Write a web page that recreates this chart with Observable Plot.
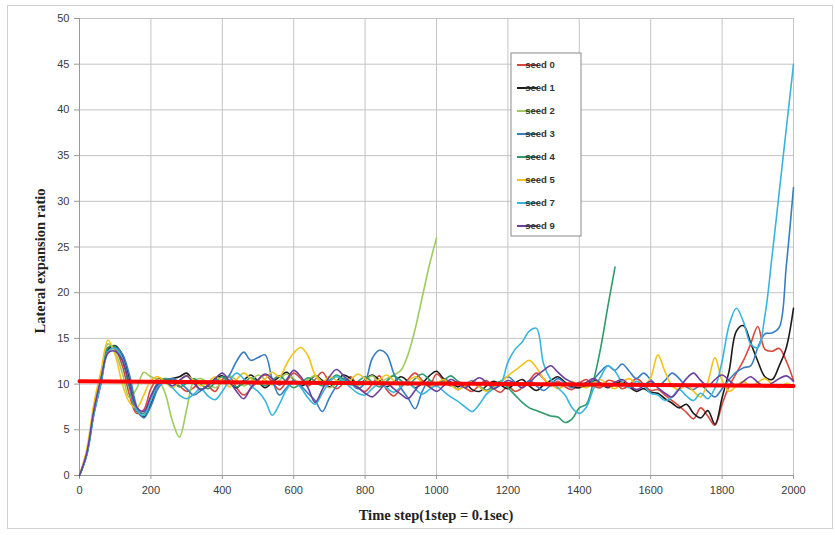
<!DOCTYPE html>
<html>
<head>
<meta charset="utf-8">
<script src="https://cdn.jsdelivr.net/npm/d3@7"></script>
<script src="https://cdn.jsdelivr.net/npm/@observablehq/plot@0.6"></script>
<style>
  html, body { margin: 0; padding: 0; background: #fff; }
  #wrap { position: relative; width: 835px; height: 535px; overflow: hidden; }
  #border { position: absolute; left: 7px; top: 5px; width: 824px; height: 522px; border: 1px solid #d2d2d2; pointer-events: none; }
  #chart { position: absolute; left: 0; top: 0; }
</style>
</head>
<body>
<div id="wrap"><div id="chart"></div><div id="border"></div></div>
<script>
// ---- Data ----
const timeStep = 20; // samples every 20 steps, t = 0 .. 2000
const seedNames = ["seed 0", "seed 1", "seed 2", "seed 3", "seed 4", "seed 5", "seed 7", "seed 9"];
const seedColors = ["#d9463c", "#1c1c1c", "#9dcc5c", "#3a7ec2", "#2f9a6c", "#f2c31c", "#38b5de", "#6b3f9c"];

const seed0 = [0, 2.5, 7, 10.5, 14, 13.8, 12, 8.8, 6.8, 7.2, 9.5, 10.6,
  10.4, 10.2, 9.8, 9.2, 9.6, 10.3, 9.8, 9.2, 10.5, 10.8, 9.6, 8.8, 9.5, 10.4,
  11, 10.2, 9.4, 10.3, 11.2, 10.6, 9.8, 10.5, 11.3, 10.2, 9.5, 10.1, 10.8, 9.7,
  9.2, 10, 10.9, 9.4, 8.7, 9.6, 10.5, 11.2, 10.4, 9.8, 11.1,
  10.4, 9.8, 10.3, 9.6, 9.2, 9.9, 10.4, 9.5, 9.1, 9.8,
  9.2, 9.6, 10.4, 11.2, 10.6, 9.8, 10.3, 9.7, 9.4, 10.1,
  10.5, 9.8, 9.6, 10.4, 10.2, 9.5, 9.9, 10.6, 10, 9.3,
  9.4, 8.8, 8.2, 7.6, 6.9, 6.2, 7.4, 6.5, 5.5, 7.8,
  9.8, 11.2, 12.6, 14.4, 16.3, 13.8, 13.6, 13.9, 12.5, 10.4];

const seed1 = [0, 2.3, 6.8, 10.2, 13.8, 14.2, 13.2, 10.5, 7.2, 6.4, 7.8, 9.8,
  10.4, 10.6, 10.8, 11.2, 10.2, 9.4, 9.8, 10.6, 10.9, 10.2, 9.6, 10.4, 11, 10.3,
  9.6, 10.2, 10.8, 11.3, 10.5, 9.8, 10.2, 10.9, 10.4, 9.7, 10.3, 11, 10.6, 9.9,
  10.5, 11, 10.4, 9.7, 10.2, 10.8, 10.3, 9.6, 10.1, 10.9, 11.4,
  10.6, 10.2, 9.7, 10.1, 9.4, 9.2, 9.8, 10.3, 9.9, 9.5,
  10.1, 10.5, 9.8, 9.3, 9.9, 10.4, 10.8, 10.2, 9.7, 9.6,
  9.9, 10.4, 10.1, 9.6, 10, 10.3, 9.7, 9.2, 9.5, 9.1,
  9, 8.4, 7.9, 7.4, 7.8, 6.8, 6.3, 7.1, 5.6, 8.5,
  11.5, 15.8, 16.4, 14.5, 12.5, 10.8, 10.5, 12, 14, 18.3];

const seed2 = [0, 2.4, 7.2, 10.8, 14.4, 13.5, 11.2, 8.5, 9.5, 11.3, 10.8, 10.5,
  9, 6, 4.2, 7.2, 10.3, 10.6, 10.1, 9.6, 10.2, 10.9, 10.4, 9.8, 10.3, 11,
  10.5, 9.9, 10.4, 11.1, 10.6, 10, 10.5, 10.9, 10.2, 9.6, 10.1, 10.7, 10.3, 9.8,
  10.4, 10.9, 10.2, 10.6, 11, 11.5, 13.2, 16, 19.5, 23, 26];

const seed3 = [0, 2.2, 6.6, 10, 13.5, 14, 13.3, 11, 7.6, 6.3, 7.6, 9.5,
  10.4, 10.6, 10.2, 9.5, 8.8, 9.3, 9.9, 10.5, 10.2, 11, 12.5, 13.5, 12.6, 12.9,
  13.2, 10.5, 8.8, 9.6, 10.4, 9.8, 9, 8.2, 7, 8.5, 9.8, 10.6, 10.1, 9.5,
  10.2, 12.8, 13.7, 13.3, 11.2, 9.6, 8.5, 7.3, 9.2, 10.4, 9.8,
  10.5, 10.1, 9.4, 9.9, 10.4, 9.8, 9.3, 9.7, 10.3, 10.8,
  10.2, 9.6, 10.4, 9.8, 9.3, 9.9, 10.6, 10.1, 9.6, 10.2,
  9.8, 10.5, 11.4, 12, 11.5, 12.2, 11.4, 10.6, 11.2, 10.5,
  9.8, 10.4, 11.2, 10.6, 9.7, 9.4, 9.9, 9.2, 8.6, 9.5,
  10.5, 11.3, 11.8, 12, 14, 15.5, 15.6, 16.2, 23, 31.5];

const seed4 = [0, 2.3, 6.9, 10.4, 14, 14.1, 12.6, 9.6, 7, 6.8, 8.6, 10.2,
  10.6, 10.3, 9.7, 10.1, 10.6, 10, 9.5, 10.2, 10.8, 10.3, 9.7, 10.1, 10.7, 10.2,
  9.8, 10.4, 10.9, 10.2, 9.6, 10.1, 10.7, 10.3, 9.8, 10.4, 11, 10.5, 9.9, 10.3,
  10.8, 10.2, 9.7, 10.3, 10.9, 10.4, 9.9, 10.6, 11.1, 10.5, 10,
  10.4, 10.9, 10.3, 9.8, 10.2, 9.7, 9.3, 9.9, 10.3, 9.6,
  8.8, 8, 7.4, 7.1, 6.8, 6.5, 6.4, 5.8, 6.2, 7.4,
  7.8, 10.4, 14, 18.5, 22.8];

const seed5 = [0, 2.8, 7.8, 11.4, 14.8, 13.2, 10, 8, 7.4, 8.8, 10.4, 10.8,
  10.2, 9.6, 10.3, 10.9, 10.4, 9.8, 10.2, 10.8, 10.3, 9.7, 10.5, 11.2, 10.6, 10,
  10.6, 11.3, 10.8, 12.2, 13.4, 14, 13.1, 11, 10.2, 10.8, 10.4, 10, 10.5, 11.1,
  10.6, 10.1, 10.5, 11, 10.4, 9.9, 10.3, 10.8, 10.2, 9.7, 10.1,
  10.5, 9.9, 9.4, 9.8, 10.3, 9.7, 9.2, 9.6, 10.2, 10.9,
  11.5, 12.1, 12.6, 11.8, 10.6, 10, 9.5, 9.9, 10.3, 9.8,
  9.6, 10.1, 10.5, 9.9, 9.5, 10.2, 10.6, 10, 9.8, 10.7,
  13.2, 11.4, 9.8, 9.4, 9.9, 9.2, 8.6, 10.2, 12.9, 10.4,
  9.2, 9.8, 10.3, 9.7, 10.2, 10.6, 10, 9.6, 10.1, 9.7];

const seed7 = [0, 2.2, 6.7, 10.1, 13.6, 13.9, 12.8, 10, 7.2, 6.6, 8.2, 9.8,
  10.2, 9.6, 8.8, 8.4, 8.9, 9.5, 8.7, 8.3, 9.2, 10.4, 11.2, 10.6, 9.8, 9.2,
  8.2, 6.6, 7.8, 9.4, 10.2, 9.6, 8.5, 7.8, 9, 10.2, 10.8, 10.3, 9.6, 9,
  8.8, 9.5, 10.1, 9.6, 9.1, 9.7, 10.3, 9.5, 8.9, 9.4, 9.8,
  9.2, 8.6, 8.1, 7.5, 7, 7.8, 8.9, 9.5, 10, 12.4,
  13.8, 14.6, 15.8, 16.1, 12.2, 10.5, 9.6, 8.8, 7.4, 6.8,
  7.5, 9.5, 10.8, 12, 11.4, 10.2, 9.6, 10.3, 9.8, 9,
  8.8, 8.2, 8.6, 9.4, 8.7, 8.2, 9, 8.4, 9.6, 12.5,
  16.5, 18.3, 16.8, 14.4, 14, 17.5, 24, 31, 38, 45];

const seed9 = [0, 2.4, 7.1, 10.6, 13.4, 13.6, 12.6, 9.9, 7.5, 7, 8.7, 10,
  10.3, 9.8, 10.4, 10.9, 10.1, 9.4, 9.9, 10.6, 11.2, 10.3, 9.2, 8.4, 9.6, 10.5,
  11.1, 10.6, 9.9, 10.5, 11.5, 10.8, 9.6, 8, 9.4, 10.8, 11.6, 10.9, 10.2, 9.6,
  9, 8.6, 9.3, 10.1, 9.5, 8.9, 8.4, 9.3, 10.2, 9.7, 9.2,
  9.8, 10.5, 10.1, 9.6, 10.2, 10.7, 10.2, 9.5, 9.9, 10.4,
  10.1, 9.6, 10.2, 10.9, 11.5, 12, 11.3, 10.6, 10.2, 9.8,
  10.2, 10.6, 10.1, 9.7, 10.2, 10.5, 9.9, 9.4, 9.8, 10.3,
  9.6, 9, 8.6, 9.5, 10.6, 11.2, 10.4, 9.8, 10.5, 11,
  10.4, 9.8, 10.3, 10.8, 10.2, 9.7, 10.1, 10.6, 10.9, 10.3];

const trendT = [0, 2000];
const trendV = [10.3, 9.8];

const xTicks = [0, 200, 400, 600, 800, 1000, 1200, 1400, 1600, 1800, 2000];
const yTicks = [0, 5, 10, 15, 20, 25, 30, 35, 40, 45, 50];
const xTitle = "Time step(1step = 0.1sec)";
const yTitle = "Lateral expansion ratio";

// ---- Build table ----
const seriesValues = [seed0, seed1, seed2, seed3, seed4, seed5, seed7, seed9];
const rows = [];
seriesValues.forEach((vals, k) => {
  vals.forEach((v, i) => rows.push({seed: seedNames[k], t: i * timeStep, v}));
});
const trend = trendT.map((t, i) => ({t, v: trendV[i]}));

const W = 835, H = 535, ML = 79, MR = 42, MT = 18, MB = 60;

const chart = Plot.plot({
  width: W, height: H,
  marginLeft: ML, marginRight: MR, marginTop: MT, marginBottom: MB,
  style: {fontFamily: "Liberation Sans, Arial, sans-serif", fontSize: "11px", color: "#3a3a3a", background: "transparent"},
  x: {domain: [0, 2000]},
  y: {domain: [0, 50]},
  color: {domain: seedNames, range: seedColors},
  marks: [
    Plot.gridX(xTicks, {stroke: "#c4c4c4", strokeOpacity: 1, strokeWidth: 1}),
    Plot.gridY(yTicks, {stroke: "#c4c4c4", strokeOpacity: 1, strokeWidth: 1}),
    Plot.ruleX([0], {stroke: "#9a9a9a"}),
    Plot.ruleY([0], {stroke: "#9a9a9a"}),
    Plot.axisX(xTicks, {tickSize: 4, tickPadding: 7, label: null, stroke: "#9a9a9a", fontSize: 11, tickFormat: d => String(d)}),
    Plot.axisY(yTicks, {tickSize: 5, tickPadding: 5, label: null, stroke: "#9a9a9a", fontSize: 11, tickFormat: d => String(d)}),
    Plot.line(rows, {x: "t", y: "v", z: "seed", stroke: "seed", strokeWidth: 1.6, curve: "catmull-rom"}),
    Plot.line(trend, {x: "t", y: "v", stroke: "#ff0000", strokeWidth: 4})
  ]
});
document.getElementById("chart").appendChild(chart);

// ---- Axis titles & legend ----
const svg = d3.select(chart);
svg.append("text")
  .attr("x", 436).attr("y", 520)
  .attr("text-anchor", "middle")
  .attr("font-family", "Liberation Serif, Times New Roman, serif")
  .attr("font-weight", "bold").attr("font-size", 14.5).attr("fill", "#222")
  .text(xTitle);
svg.append("text")
  .attr("transform", "translate(45,261) rotate(-90)")
  .attr("text-anchor", "middle")
  .attr("font-family", "Liberation Serif, Times New Roman, serif")
  .attr("font-weight", "bold").attr("font-size", 14.5).attr("fill", "#222")
  .text(yTitle);

const lg = svg.append("g").attr("transform", "translate(511,53)");
lg.append("rect").attr("width", 70).attr("height", 183)
  .attr("fill", "#fff").attr("stroke", "#8a8a8a").attr("stroke-width", 1);
seedNames.forEach((name, i) => {
  const yy = 12 + i * 23;
  lg.append("line").attr("x1", 6).attr("x2", 27).attr("y1", yy).attr("y2", yy)
    .attr("stroke", seedColors[i]).attr("stroke-width", 2);
  lg.append("text").attr("x", 29).attr("y", yy).attr("dy", "0.35em")
    .attr("font-family", "Liberation Sans, Arial, sans-serif")
    .attr("font-size", 9.5).attr("font-weight", "bold").attr("fill", "#333")
    .text(name);
});
</script>
</body>
</html>
